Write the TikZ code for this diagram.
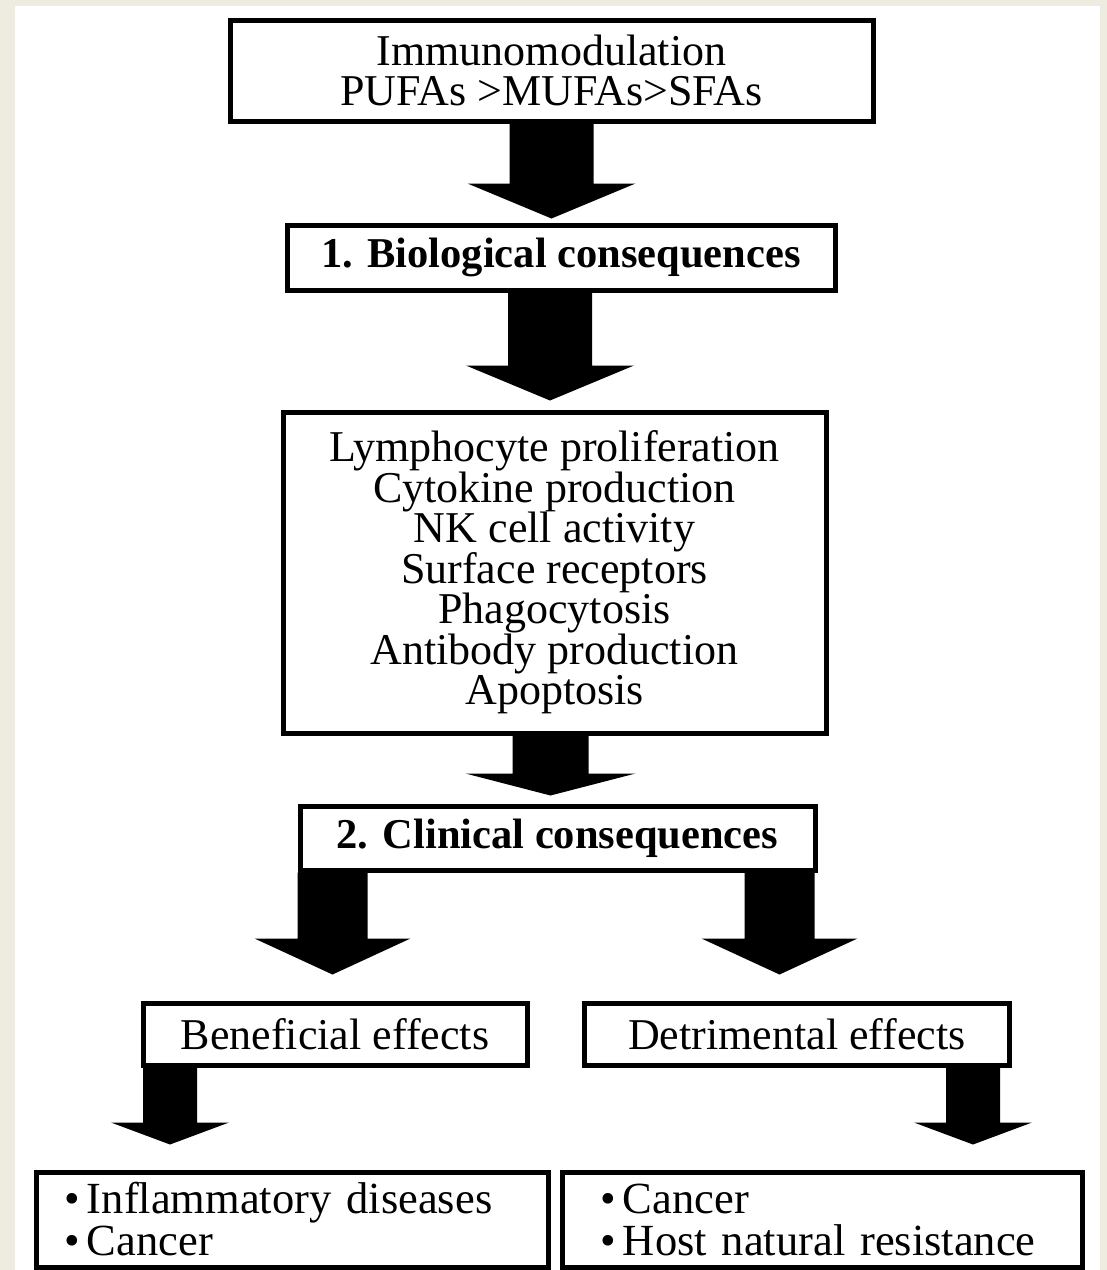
\documentclass[tikz,border=0pt]{standalone}
\usepackage{fontspec}
\setmainfont{Liberation Serif}
\usetikzlibrary{calc}
\definecolor{pagebeige}{RGB}{238,236,224}
\tikzset{
  box/.style={draw=black, line width=5pt, fill=white, inner sep=0pt, align=center,
    font=\fontsize{44}{40.5}\selectfont},
  boldbox/.style={box, font=\fontsize{42.5}{40.5}\selectfont\bfseries},
  listbox/.style={draw=black, line width=5pt, fill=white, inner ysep=0pt, align=left,
    font=\fontsize{44.5}{42}\selectfont},
  blk/.style={fill=black},
}
% #1 start, #2 tip, #3 half shaft, #4 half head, #5 head length
\newcommand{\blockarrow}[5]{%
  \fill[blk] ($(#1)+(-#3,0)$) -- ($(#2)+(-#3,-#5)$) -- ($(#2)+(-#4,-#5)$) -- (#2)
    -- ($(#2)+(#4,-#5)$) -- ($(#2)+(#3,-#5)$) -- ($(#1)+(#3,0)$) -- cycle;}
\begin{document}
\begin{tikzpicture}[x=1pt,y=-1pt]
\useasboundingbox (0,0) rectangle (1107,1270);
\fill[pagebeige] (0,0) rectangle (1107,1270);
\fill[white] (15,6) rectangle (1100,1270);

\node[box, minimum width=643, minimum height=101] (top) at (551.5,70.5)
  {Immunomodulation\\PUFAs >MUFAs>SFAs};
\node[boldbox, minimum width=548, minimum height=65] (bio) at (561,257.5)
  {1. Biological consequences};
\node[box, minimum width=543, minimum height=321] (list) at (554.5,572.5)
  {Lymphocyte proliferation\\Cytokine production\\NK cell activity\\Surface receptors\\Phagocytosis\\Antibody production\\Apoptosis};
\node[boldbox, minimum width=515, minimum height=64] (clin) at (557.5,838)
  {2. Clinical consequences};
\node[box, minimum width=384, minimum height=62] (bene) at (335,1034)
  {Beneficial effects};
\node[box, minimum width=425, minimum height=62] (detr) at (797,1034)
  {Detrimental effects};
\node[listbox, inner xsep=28pt, text width=456pt, minimum height=95] (bl) at (292,1219.5)
  {•\,Inflammatory diseases\\•\,Cancer};
\node[listbox, inner xsep=38pt, text width=444pt, minimum height=95] (br) at (822,1219.5)
  {•\,Cancer\\•\,Host natural resistance};

\coordinate (a1s) at (top.south);
\coordinate (a1t) at ($(a1s |- bio.north)+(0,-4)$);
\blockarrow{a1s}{a1t}{42}{84}{35}
\coordinate (a2s) at ($(bio.south)+(-11,0)$);
\coordinate (a2t) at ($(a2s |- list.north)+(0,-9)$);
\blockarrow{a2s}{a2t}{42}{84}{35}
\coordinate (a3s) at ($(list.south)+(-4,0)$);
\coordinate (a3t) at ($(a3s |- clin.north)+(0,-8)$);
\blockarrow{a3s}{a3t}{38}{85}{22}
\coordinate (a4s) at ($(clin.south)+(-225,0)$);
\coordinate (a4t) at ($(a4s |- bene.north)+(0,-26)$);
\blockarrow{a4s}{a4t}{35}{78}{36}
\coordinate (a5s) at ($(clin.south)+(222,0)$);
\coordinate (a5t) at ($(a5s |- detr.north)+(0,-26)$);
\blockarrow{a5s}{a5t}{35}{78}{36}
\coordinate (a6s) at ($(bene.south)+(-165,0)$);
\coordinate (a6t) at ($(a6s |- bl.north)+(0,-25)$);
\blockarrow{a6s}{a6t}{27}{59}{22}
\coordinate (a7s) at ($(detr.south)+(176,0)$);
\coordinate (a7t) at ($(a7s |- br.north)+(0,-25)$);
\blockarrow{a7s}{a7t}{27}{59}{22}
\end{tikzpicture}
\end{document}
